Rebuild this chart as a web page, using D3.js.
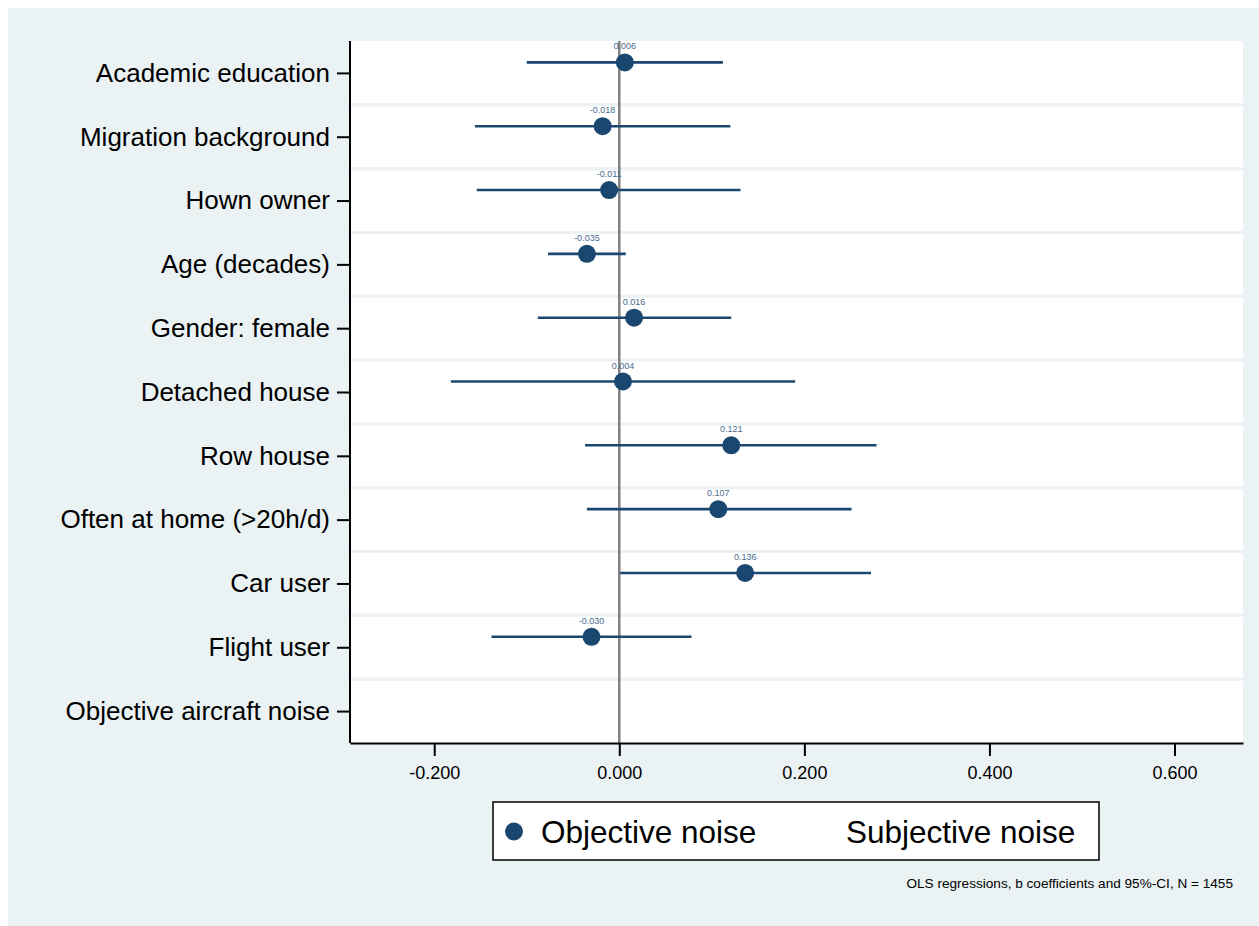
<!DOCTYPE html>
<html>
<head>
<meta charset="utf-8">
<script src="https://cdn.jsdelivr.net/npm/d3@7"></script>
<style>
  body { margin: 0; background: #fff; }
  svg text { font-family: "Liberation Sans", Arial, sans-serif; }
</style>
</head>
<body>
<div id="chart"></div>
<script>
// coefficient plot data
var categories = ["Academic education", "Migration background", "Hown owner", "Age (decades)",
  "Gender: female", "Detached house", "Row house", "Often at home (>20h/d)", "Car user",
  "Flight user", "Objective aircraft noise"];
var coef   = [0.006, -0.018, -0.011, -0.035, 0.016, 0.004, 0.121, 0.107, 0.136, -0.030, null];
var ciLow  = [-0.100, -0.156, -0.154, -0.077, -0.088, -0.182, -0.037, -0.035, 0.001, -0.138, null];
var ciHigh = [0.112, 0.120, 0.131, 0.007, 0.121, 0.190, 0.278, 0.251, 0.272, 0.078, null];
var xTicks = [-0.2, 0, 0.2, 0.4, 0.6];
var legendLabels = ["Objective noise", "Subjective noise"];
var note = "OLS regressions, b coefficients and 95%-CI, N = 1455";

var width = 1259, height = 926;
var plotLeft = 350, plotRight = 1243, plotTop = 41, plotBottom = 743;
var navy = "#1a476f", bg = "#eaf2f3";

var fmt = d3.formatLocale({decimal: ".", thousands: ",", grouping: [3], currency: ["", ""], minus: "-"})
  .format(".3f");

var svg = d3.select("#chart").append("svg")
  .attr("width", width)
  .attr("height", height);

svg.append("rect")
  .attr("x", 8).attr("y", 8)
  .attr("width", width - 8).attr("height", height - 8)
  .attr("fill", bg);

svg.append("rect")
  .attr("x", plotLeft).attr("y", plotTop)
  .attr("width", plotRight - plotLeft).attr("height", plotBottom - plotTop)
  .attr("fill", "#fff");

var x = d3.scaleLinear()
  .domain([-0.291, 0.674])
  .range([plotLeft, plotRight]);

var y = d3.scalePoint()
  .domain(categories)
  .range([plotTop, plotBottom])
  .padding(0.5);

var step = y.step();
var offset = -10.5; // objective series sits above the category tick

// gridlines between categories
svg.append("g").selectAll("line")
  .data(categories.slice(1))
  .enter().append("line")
  .attr("x1", plotLeft).attr("x2", plotRight)
  .attr("y1", function(d) { return y(d) - step / 2; })
  .attr("y2", function(d) { return y(d) - step / 2; })
  .attr("stroke", bg)
  .attr("stroke-width", 3);

// reference line at zero
svg.append("line")
  .attr("x1", x(0)).attr("x2", x(0))
  .attr("y1", plotTop).attr("y2", plotBottom)
  .attr("stroke", "#808080")
  .attr("stroke-width", 2.5);

var rows = categories.map(function(c, i) {
  return {cat: c, b: coef[i], lo: ciLow[i], hi: ciHigh[i]};
}).filter(function(d) { return d.b !== null; });

var g = svg.append("g");

g.selectAll("line.ci")
  .data(rows)
  .enter().append("line")
  .attr("class", "ci")
  .attr("x1", function(d) { return x(d.lo); })
  .attr("x2", function(d) { return x(d.hi); })
  .attr("y1", function(d) { return y(d.cat) + offset; })
  .attr("y2", function(d) { return y(d.cat) + offset; })
  .attr("stroke", navy)
  .attr("stroke-width", 2.6);

g.selectAll("circle")
  .data(rows)
  .enter().append("circle")
  .attr("cx", function(d) { return x(d.b); })
  .attr("cy", function(d) { return y(d.cat) + offset; })
  .attr("r", 9)
  .attr("fill", navy);

g.selectAll("text")
  .data(rows)
  .enter().append("text")
  .attr("x", function(d) { return x(d.b); })
  .attr("y", function(d) { return y(d.cat) + offset - 13; })
  .attr("text-anchor", "middle")
  .attr("font-size", 9)
  .attr("fill", "#4a6c8e")
  .text(function(d) { return fmt(d.b); });

// axes
var yAxis = svg.append("g")
  .attr("transform", "translate(" + plotLeft + ",0)")
  .call(d3.axisLeft(y).tickSize(13).tickPadding(7).tickSizeOuter(0));
yAxis.select(".domain").attr("stroke-width", 2).attr("d", "M0," + plotTop + "V" + plotBottom);
yAxis.selectAll(".tick line").attr("stroke-width", 2);
yAxis.selectAll("text").attr("font-size", 26).attr("fill", "#000");

var xAxis = svg.append("g")
  .attr("transform", "translate(0," + plotBottom + ")")
  .call(d3.axisBottom(x).tickValues(xTicks).tickFormat(fmt).tickSize(13).tickPadding(10).tickSizeOuter(0));
xAxis.select(".domain").attr("stroke-width", 2);
xAxis.selectAll(".tick line").attr("stroke-width", 2);
xAxis.selectAll("text").attr("font-size", 18).attr("fill", "#000");

// legend
var legend = svg.append("g");
legend.append("rect")
  .attr("x", 493).attr("y", 802)
  .attr("width", 606).attr("height", 58)
  .attr("fill", "#fff")
  .attr("stroke", "#000")
  .attr("stroke-width", 1.5);
legend.append("circle")
  .attr("cx", 514).attr("cy", 831.5)
  .attr("r", 9)
  .attr("fill", navy);
legend.selectAll("text")
  .data(legendLabels)
  .enter().append("text")
  .attr("x", function(d, i) { return i === 0 ? 541 : 846; })
  .attr("y", 843)
  .attr("font-size", 31.5)
  .attr("fill", "#000")
  .text(function(d) { return d; });

svg.append("text")
  .attr("x", 1233)
  .attr("y", 888)
  .attr("text-anchor", "end")
  .attr("font-size", 13.6)
  .attr("fill", "#000")
  .text(note);
</script>
</body>
</html>
